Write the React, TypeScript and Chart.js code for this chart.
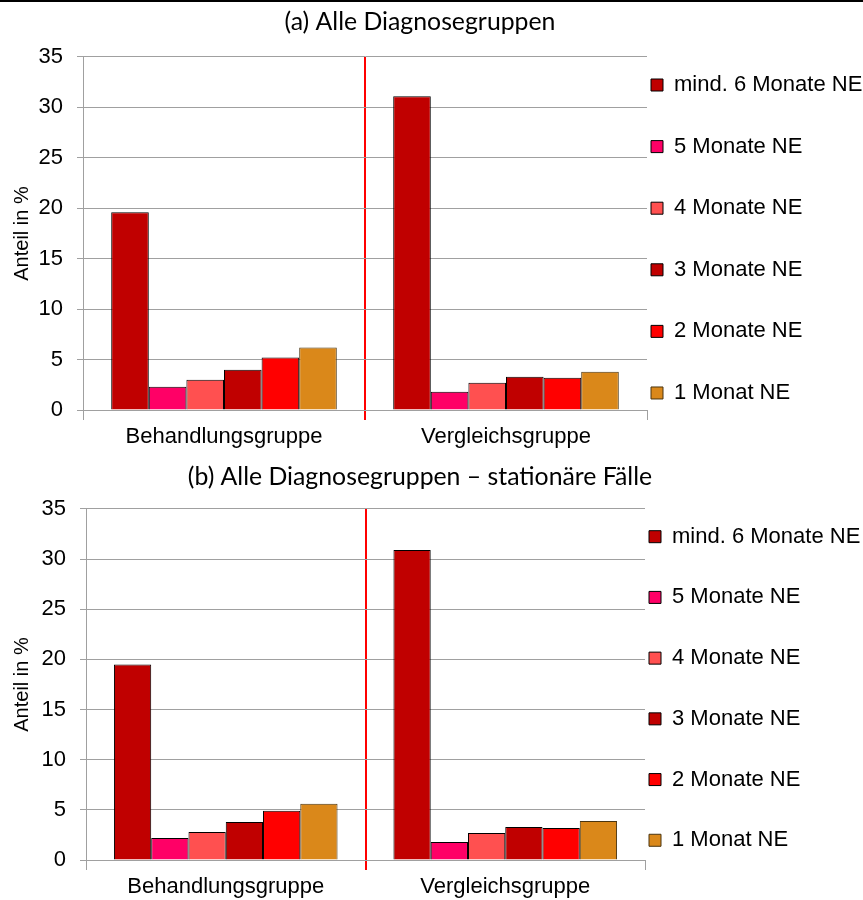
import React, { useEffect, useRef } from 'react';
import { Chart, registerables } from 'chart.js';

Chart.register(...registerables);

// ---------- data ----------
const categories = ['Behandlungsgruppe', 'Vergleichsgruppe'];
const seriesLabels = ['mind. 6 Monate NE', '5 Monate NE', '4 Monate NE', '3 Monate NE', '2 Monate NE', '1 Monat NE'];
const seriesColors = ['#C00000', '#FF0066', '#FF5050', '#C00000', '#FF0000', '#DA881A'];
const seriesBorders = ['#000000', '#000000', '#000000', '#000000', '#000000', '#4A3510'];
const yTicks = [0, 5, 10, 15, 20, 25, 30, 35];

const titleA = '(a) Alle Diagnosegruppen';
const a_mind6 = [19.6, 31.1];
const a_m5 = [2.3, 1.8];
const a_m4 = [3.0, 2.7];
const a_m3 = [4.0, 3.3];
const a_m2 = [5.2, 3.2];
const a_m1 = [6.2, 3.8];

const titleB = '(b) Alle Diagnosegruppen \u2013 station\u00e4re F\u00e4lle';
const b_mind6 = [19.5, 30.9];
const b_m5 = [2.2, 1.8];
const b_m4 = [2.8, 2.7];
const b_m3 = [3.8, 3.3];
const b_m2 = [4.9, 3.2];
const b_m1 = [5.6, 3.9];

const yTitle = 'Anteil in %';

type PanelSpec = {
  title: string;
  values: number[][];
  plotLeft: number;
  plotRight: number;
  titlePadTop: number;
  titlePadBottom: number;
  legendTitlePad: number;
  legendLineHeight: number;
};

const CANVAS_W = 863;
const CANVAS_H = 450;
const LEFT_PAD = -23; // shifts the full-width title centre to ~420px
const SANS = "'Liberation Sans', Arial, sans-serif";

function Panel({ spec }: { spec: PanelSpec }) {
  const ref = useRef<HTMLCanvasElement | null>(null);
  useEffect(() => {
    const canvas = ref.current;
    if (!canvas) return;
    const defaultGen = (Chart.defaults as any).plugins.legend.labels.generateLabels;
    const chart = new Chart(canvas, {
      type: 'bar',
      data: {
        labels: categories,
        datasets: seriesLabels.map((label, i) => ({
          label,
          data: spec.values[i],
          backgroundColor: seriesColors[i],
          borderColor: seriesBorders[i],
          borderWidth: 1,
          categoryPercentage: 0.8,
          barPercentage: 1.0,
        })),
      },
      options: {
        responsive: false,
        animation: false,
        devicePixelRatio: 1,
        layout: { padding: { left: LEFT_PAD, right: 0, top: 0, bottom: 0 } },
        plugins: {
          title: {
            display: true,
            text: spec.title,
            color: '#000',
            font: { family: "Lato, 'Open Sans', sans-serif", size: 24.8, weight: 'normal', lineHeight: 1.2 },
            padding: { top: spec.titlePadTop, bottom: spec.titlePadBottom },
          },
          legend: {
            position: 'right',
            align: 'start',
            maxWidth: CANVAS_W - spec.plotRight,
            title: {
              display: true,
              text: ' ',
              font: { size: 10, lineHeight: 1.2 },
              padding: { top: spec.legendTitlePad, bottom: 0 },
            },
            labels: {
              boxWidth: 12,
              boxHeight: 12,
              padding: 4,
              color: '#000',
              font: { family: SANS, size: 22, lineHeight: spec.legendLineHeight },
              generateLabels: (c: any) =>
                defaultGen(c).map((it: any) => ({ ...it, text: [it.text, ''] })),
            },
          },
          tooltip: { enabled: false },
        },
        scales: {
          x: {
            grid: {
              offset: true,
              drawTicks: true,
              tickLength: 10,
              color: (c: any) => (c.index === 1 ? '#FF0000' : 'rgba(0,0,0,0)'),
              tickColor: (c: any) => (c.index === 1 ? '#FF0000' : '#A0A0A0'),
              lineWidth: (c: any) => (c.index === 1 ? 2 : 1),
            },
            border: { display: true, color: '#A0A0A0', width: 1 },
            ticks: { color: '#000', padding: 4, font: { family: SANS, size: 22 } },
            afterFit: (s: any) => {
              s.height = 40;
            },
          },
          y: {
            min: 0,
            max: 35,
            afterBuildTicks: (s: any) => {
              s.ticks = yTicks.map((v) => ({ value: v }));
            },
            grid: { color: '#A0A0A0', tickLength: 6, drawTicks: true },
            border: { display: true, color: '#A0A0A0', width: 1 },
            ticks: { color: '#000', padding: 14, font: { family: SANS, size: 22 } },
            title: {
              display: true,
              text: yTitle,
              color: '#000',
              font: { family: SANS, size: 20 },
              padding: { top: 10 - LEFT_PAD, bottom: 0 },
            },
            afterFit: (s: any) => {
              s.width = spec.plotLeft - LEFT_PAD;
            },
          },
        },
      },
    } as any);
    return () => chart.destroy();
  }, [spec]);
  return (
    <canvas
      ref={ref}
      width={CANVAS_W}
      height={CANVAS_H}
      style={{ display: 'block', width: CANVAS_W + 'px', height: CANVAS_H + 'px' }}
    />
  );
}

const specA: PanelSpec = {
  title: titleA,
  values: [a_mind6, a_m5, a_m4, a_m3, a_m2, a_m1],
  plotLeft: 83,
  plotRight: 647,
  titlePadTop: 7.2,
  titlePadBottom: 20.0,
  legendTitlePad: 58,
  legendLineHeight: 1.309,
};

const specB: PanelSpec = {
  title: titleB,
  values: [b_mind6, b_m5, b_m4, b_m3, b_m2, b_m1],
  plotLeft: 86,
  plotRight: 645,
  titlePadTop: 12.2,
  titlePadBottom: 17.0,
  legendTitlePad: 59.7,
  legendLineHeight: 1.289,
};

export default function App() {
  useEffect(() => {
    document.body.style.margin = '0';
  }, []);
  return (
    <div style={{ position: 'relative', width: CANVAS_W, height: 900, background: '#fff' }}>
      <Panel spec={specA} />
      <Panel spec={specB} />
      <div style={{ position: 'absolute', left: 0, top: 0, width: CANVAS_W, height: 2, background: '#000' }} />
    </div>
  );
}
